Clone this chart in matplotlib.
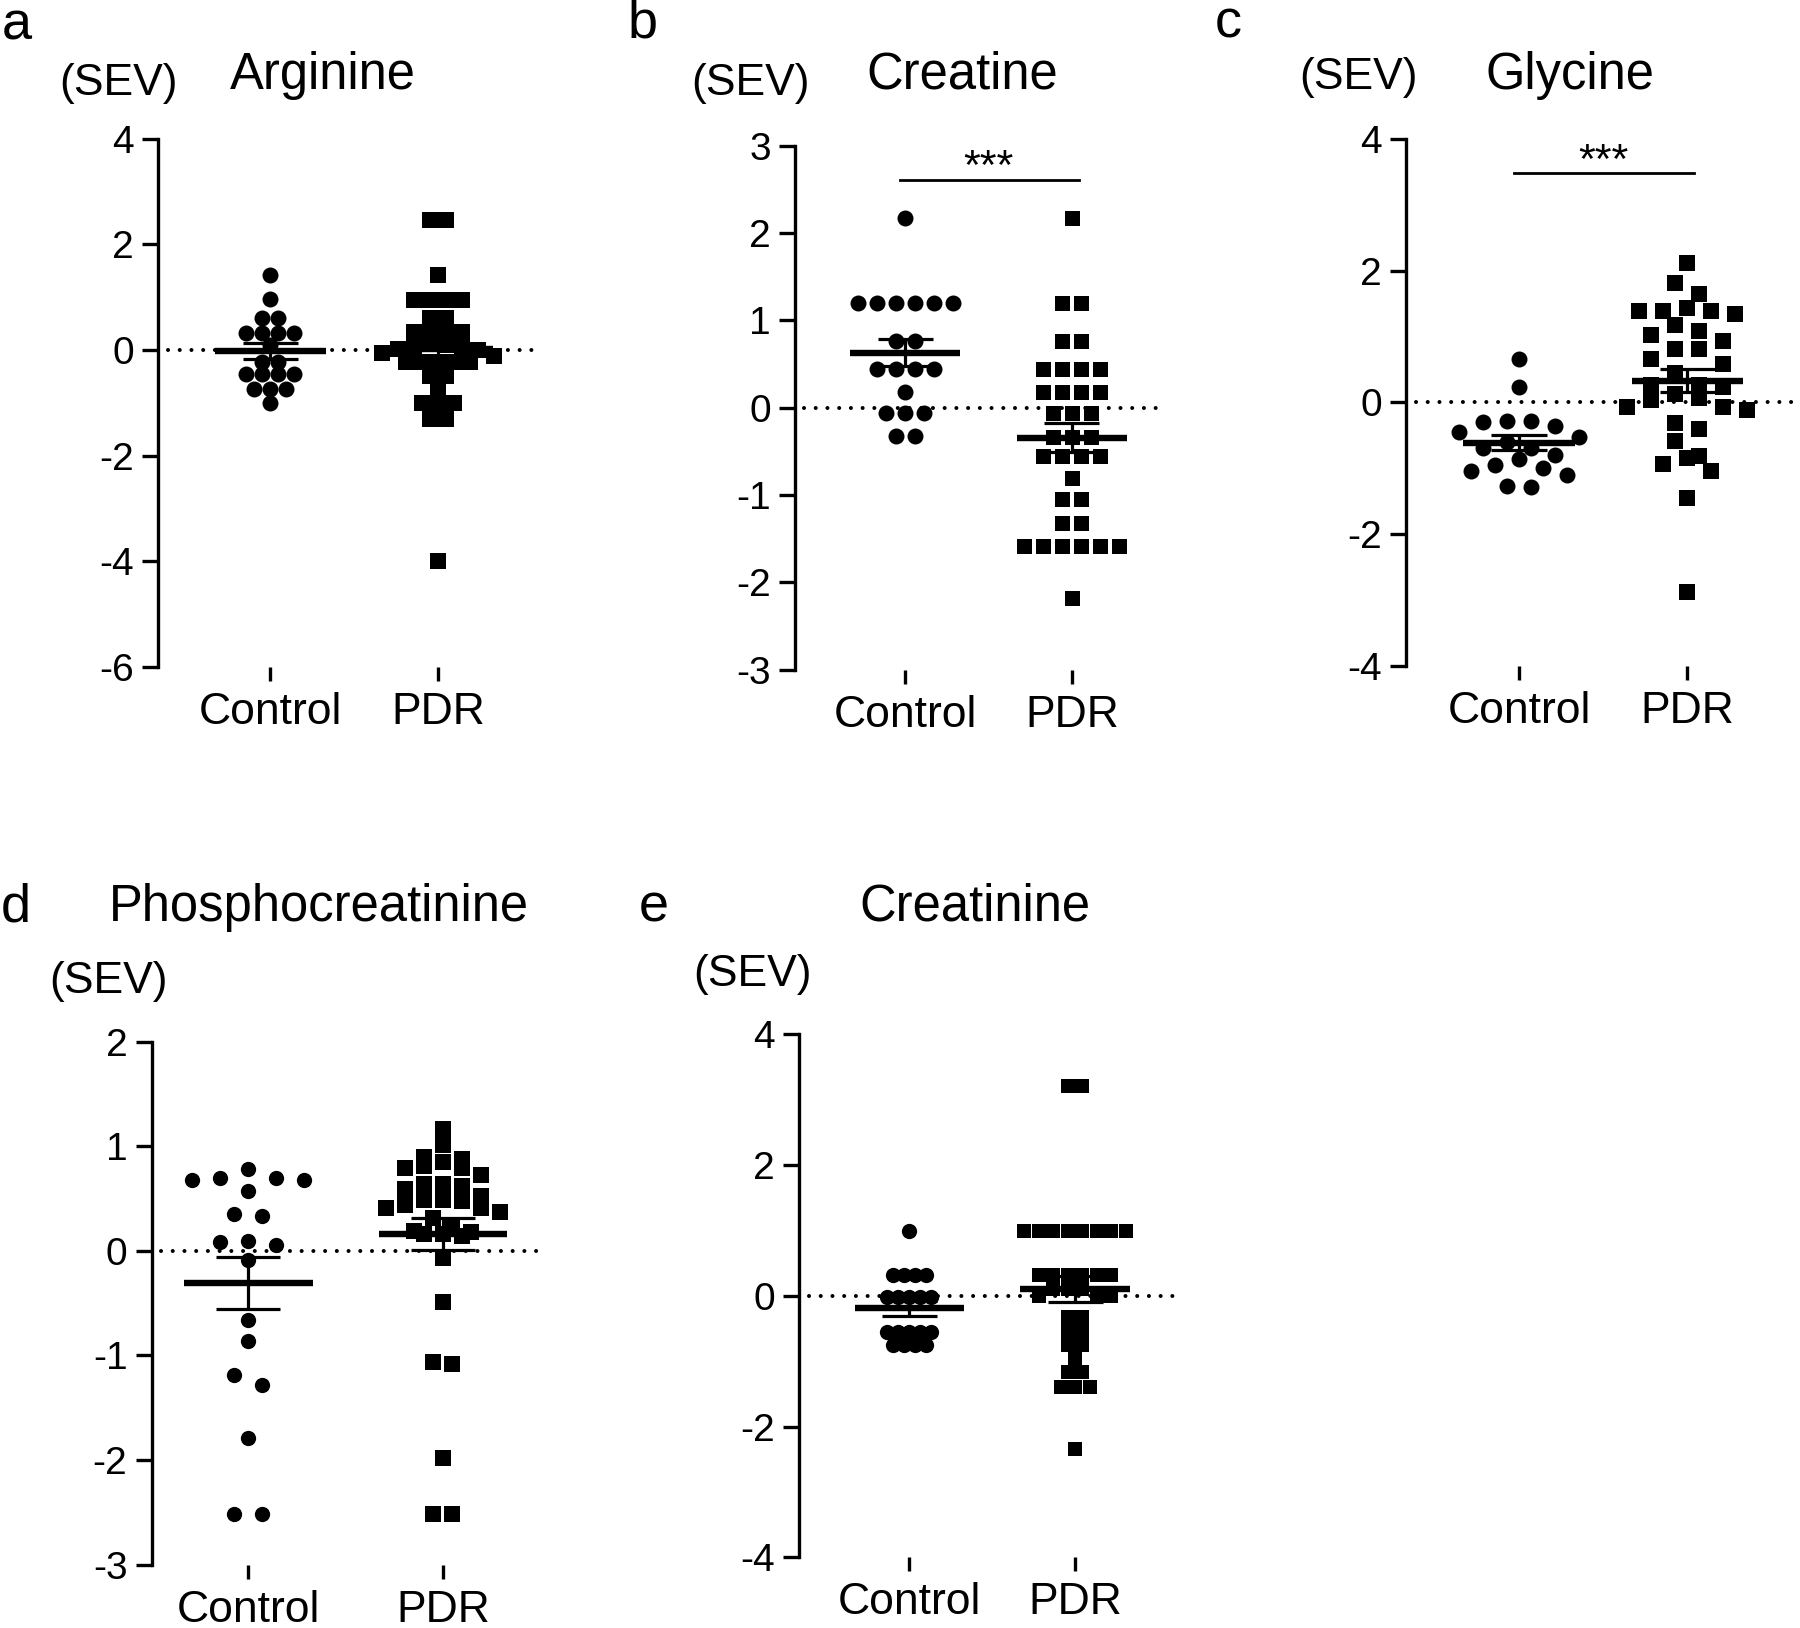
import numpy as np
import matplotlib
matplotlib.use('Agg')
import matplotlib.pyplot as plt

plt.rcParams['font.family'] = ['Liberation Sans', 'DejaVu Sans']
plt.rcParams['axes.unicode_minus'] = False

groups = ['Control', 'PDR']

# values (SEV)
arginine_control = [1.42, 0.96, 0.61, 0.61, 0.33, 0.33, 0.33, 0.33, 0.09, -0.22, -0.22,
                    -0.46, -0.46, -0.46, -0.46, -0.74, -0.74, -0.74, -1.0]
arginine_pdr = [2.47, 2.47, 1.42, 0.95, 0.95, 0.95, 0.95, 0.60, 0.60, 0.35, 0.35, 0.35, 0.35,
                0.11, 0.10, 0.08, 0.05, 0.02, 0.0, -0.05, -0.11, -0.22, -0.22, -0.22, -0.22, -0.22,
                -0.49, -0.49, -0.74, -1.0, -1.0, -1.0, -1.31, -1.31, -4.0]

creatine_control = [2.17, 1.20, 1.20, 1.20, 1.20, 1.20, 1.20, 0.76, 0.76, 0.44, 0.44, 0.44, 0.44,
                    0.18, -0.06, -0.06, -0.06, -0.32, -0.32]
creatine_pdr = [2.17, 1.20, 1.20, 0.76, 0.76, 0.44, 0.44, 0.44, 0.44, 0.18, 0.18, 0.18, 0.18,
                -0.06, -0.06, -0.06, -0.33, -0.33, -0.33, -0.55, -0.55, -0.55, -0.55, -0.81,
                -1.05, -1.05, -1.32, -1.32, -1.58, -1.58, -1.58, -1.58, -1.58, -1.58, -2.18]

glycine_control = [0.66, 0.24, -0.28, -0.29, -0.30, -0.36, -0.45, -0.52, -0.60, -0.69, -0.70,
                   -0.80, -0.86, -0.95, -1.0, -1.05, -1.10, -1.27, -1.29]
glycine_pdr = [2.12, 1.82, 1.64, 1.44, 1.39, 1.39, 1.39, 1.35, 1.17, 1.08, 1.03, 0.93, 0.81, 0.81,
               0.66, 0.59, 0.45, 0.26, 0.26, 0.23, 0.12, 0.07, 0.03, -0.07, -0.07, -0.12, -0.31,
               -0.41, -0.59, -0.81, -0.84, -0.93, -1.04, -1.46, -2.89]

phospho_control = [0.78, 0.70, 0.70, 0.68, 0.68, 0.57, 0.35, 0.33, 0.10, 0.09, 0.06, -0.09,
                   -0.66, -0.86, -1.19, -1.28, -1.79, -2.52, -2.52]
phospho_pdr = [1.17, 1.01, 0.90, 0.88, 0.85, 0.81, 0.79, 0.79, 0.73, 0.64, 0.64, 0.62, 0.59,
               0.53, 0.49, 0.49, 0.48, 0.44, 0.41, 0.41, 0.37, 0.32, 0.22, 0.19, 0.18, 0.16, 0.16,
               0.14, -0.07, -0.49, -1.06, -1.08, -1.98, -2.52, -2.52]

creatinine_control = [0.99, 0.32, 0.32, 0.32, 0.32, -0.02, -0.02, -0.02, -0.02, -0.02,
                      -0.55, -0.55, -0.55, -0.55, -0.55, -0.75, -0.75, -0.75, -0.75]
creatinine_pdr = [3.2, 3.2, 0.99, 0.99, 0.99, 0.99, 0.99, 0.99, 0.99, 0.99,
                  0.32, 0.32, 0.32, 0.32, 0.32, 0.32, 0.1, 0.1, 0.1, 0.0, 0.0, 0.0,
                  -0.32, -0.32, -0.54, -0.54, -0.75, -0.75, -0.96, -1.17, -1.17,
                  -1.39, -1.39, -1.39, -2.34]

panels = [
    dict(letter='a', title='Arginine', data=(arginine_control, arginine_pdr),
         rect=[0.0878, 0.5904, 0.2122, 0.3243], xlim=(0.33, 2.61), ylim=(-6, 4), ystep=2,
         ms=(11.5, 11.5), step=(16, 16), row=12, sig=None,
         letter_xy=(17, 25), title_xy=(323, 75), sev_xy=(119, 84)),
    dict(letter='b', title='Creatine', data=(creatine_control, creatine_pdr),
         rect=[0.4417, 0.5887, 0.2056, 0.3217], xlim=(0.337, 2.56), ylim=(-3, 3), ystep=1,
         ms=(11.5, 10.8), step=(19, 19), row=16, sig=2.61,
         letter_xy=(643, 23), title_xy=(962, 75), sev_xy=(751, 84)),
    dict(letter='c', title='Glycine', data=(glycine_control, glycine_pdr),
         rect=[0.7811, 0.5912, 0.2172, 0.3233], xlim=(0.329, 2.65), ylim=(-4, 4), ystep=2,
         ms=(11.5, 11.5), step=(24, 24), row=16, sig=3.48,
         letter_xy=(1228, 23), title_xy=(1570, 75), sev_xy=(1358, 78)),
    dict(letter='d', title='Phosphocreatinine', data=(phospho_control, phospho_pdr),
         rect=[0.0843, 0.039, 0.2157, 0.321], xlim=(0.503, 2.5), ylim=(-3, 2), ystep=1,
         ms=(11, 11), step=(28, 19), row=15, sig=None,
         letter_xy=(16, 907), title_xy=(319, 907), sev_xy=(109, 982)),
    dict(letter='e', title='Creatinine', data=(creatinine_control, creatinine_pdr),
         rect=[0.444, 0.0434, 0.2132, 0.3214], xlim=(0.336, 2.65), ylim=(-4, 4), ystep=2,
         ms=(11, 10), step=(11, 14.5), row=12, sig=None,
         letter_xy=(654, 907), title_xy=(975, 907), sev_xy=(752, 974)),
]

W, H = 1800, 1628
fig = plt.figure(figsize=(W / 100, H / 100), dpi=100)


def swarm(vals, row_px, step_px, ppx, ppy):
    # GraphPad-like column scatter: values close in y share a centred row
    vals = np.asarray(vals, float)
    order = np.argsort(-vals, kind='stable')
    rows = []
    for i in order:
        if rows and vals[rows[-1][0]] - vals[i] < row_px / ppy:
            rows[-1].append(i)
        else:
            rows.append([i])
    off = np.zeros(len(vals))
    for r in rows:
        n = len(r)
        slots = sorted(np.arange(n) - (n - 1) / 2, key=lambda s: (abs(s), s))
        for i, s in zip(r, slots):
            off[i] = s * step_px / ppx
    return off


for p in panels:
    ax = fig.add_axes(p['rect'])
    ax.set_xlim(p['xlim'])
    ax.set_ylim(p['ylim'])
    bbox = ax.get_window_extent()
    ppx = bbox.width / (p['xlim'][1] - p['xlim'][0])
    ppy = bbox.height / (p['ylim'][1] - p['ylim'][0])

    ax.axhline(0, xmin=0.025, xmax=1, color='black', lw=2.9,
               linestyle=(0, (0.01, 2.9)), dash_capstyle='round', zorder=1)

    for k, (vals, marker) in enumerate(zip(p['data'], ['o', 's'])):
        xc = k + 1
        vals = np.asarray(vals, float)
        xs = xc + swarm(vals, p['row'], p['step'][k], ppx, ppy)
        ax.plot(xs, vals, linestyle='none', marker=marker, ms=p['ms'][k],
                color='black', mec='black', mew=0, zorder=3)
        m = vals.mean()
        sem = vals.std(ddof=1) / np.sqrt(len(vals))
        ax.hlines(m, xc - 0.33, xc + 0.33, color='black', lw=4.6, zorder=4)
        ax.vlines(xc, m - sem, m + sem, color='black', lw=2.3, zorder=4)
        ax.hlines([m - sem, m + sem], xc - 0.165, xc + 0.165, color='black', lw=2.3, zorder=4)

    if p['sig'] is not None:
        ax.plot([0.97, 2.04], [p['sig'], p['sig']], color='black', lw=2, clip_on=False)
        ax.annotate('***', (1.5, p['sig']), xytext=(0, -6), textcoords='offset points',
                    ha='center', va='bottom', fontsize=31)

    ax.set_yticks(np.arange(p['ylim'][0], p['ylim'][1] + 0.1, p['ystep']))
    ax.set_yticklabels([str(int(v)) for v in ax.get_yticks()])
    ax.set_xticks([1, 2])
    ax.set_xticklabels(groups)
    for s in ['top', 'right', 'bottom']:
        ax.spines[s].set_visible(False)
    ax.spines['left'].set_linewidth(2.4)
    ax.tick_params(axis='y', direction='out', length=11.5, width=2.4, labelsize=28, pad=6)
    ax.tick_params(axis='x', direction='out', length=10, width=2.4, labelsize=32, pad=8)

    fig.text(p['letter_xy'][0] / W, 1 - p['letter_xy'][1] / H, p['letter'],
             ha='center', va='center', fontsize=39)
    fig.text(p['title_xy'][0] / W, 1 - p['title_xy'][1] / H, p['title'],
             ha='center', va='center', fontsize=36.5)
    fig.text(p['sev_xy'][0] / W, 1 - p['sev_xy'][1] / H, '(SEV)',
             ha='center', va='center', fontsize=32)

fig.savefig('out.png', dpi=100)
